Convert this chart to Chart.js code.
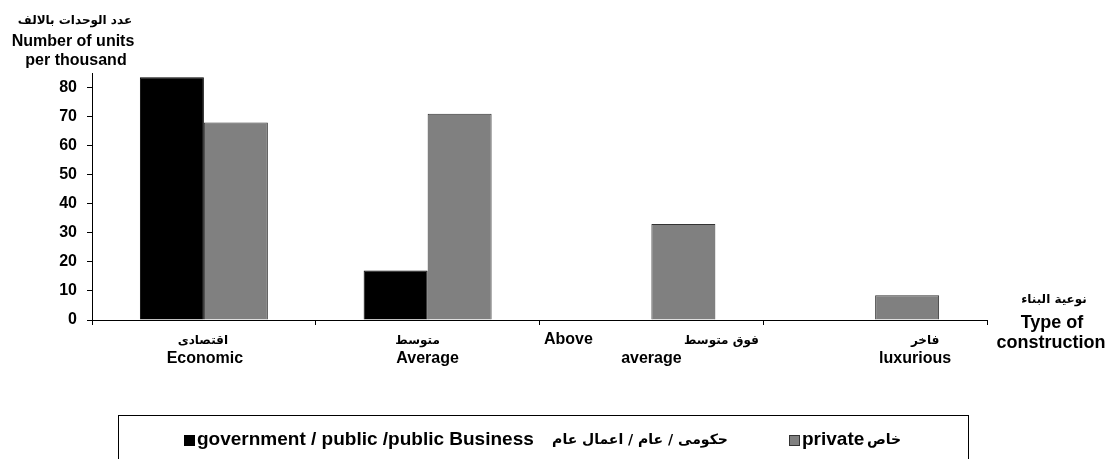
<!DOCTYPE html>
<html>
<head>
<meta charset="utf-8">
<script src="https://cdn.jsdelivr.net/npm/chart.js@4"></script>
<style>
  html, body { margin: 0; padding: 0; background: #fff; }
  #wrap { width: 1117px; height: 459px; }
</style>
</head>
<body>
<div id="wrap"><canvas id="unitsChart" width="1117" height="459"></canvas></div>
<script>
// 数据
const categoriesAr = ['اقتصادى', 'متوسط', 'فوق متوسط', 'فاخر'];
const categoriesEn = ['Economic', 'Average', 'Above average', 'luxurious'];
const governmentValues = [83.5, 17, 0, 0];
const privateValues = [68, 71, 33, 8.5];
const seriesEn = ['government / public /public Business', 'private'];
const seriesAr = ['حكومى / عام / اعمال عام', 'خاص'];
const yTicks = [0, 10, 20, 30, 40, 50, 60, 70, 80];

const EN = 'bold 16px "Liberation Sans", Arial, sans-serif';
const AR = 'bold 12px "DejaVu Sans", sans-serif';

// 分类标签的偏移 (相对于分类中心)
const labelOffsets = [
    { ar: -1, en: 1 },
    { ar: -10, en: 0 },
    { ar: 70, en: 0, first: -83 },
    { ar: 50, en: 40 }
];

function text(ctx, str, x, y, font, align) {
    ctx.font = font;
    ctx.textAlign = align || 'center';
    ctx.textBaseline = 'middle';
    ctx.fillText(str, x, y);
}

const labelsPlugin = {
    id: 'labelsPlugin',
    afterDraw(chart) {
        const ctx = chart.ctx;
        const x = chart.scales.x;
        ctx.save();
        ctx.fillStyle = '#000';

        // 分类标签
        categoriesEn.forEach((en, i) => {
            const c = x.getPixelForValue(i);
            const off = labelOffsets[i];
            text(ctx, categoriesAr[i], c + off.ar, 341, AR);
            if (off.first !== undefined) {
                const parts = en.split(' ');
                text(ctx, parts[0], c + off.first, 340, EN);
                text(ctx, parts[1], c + off.en, 359, EN);
            } else {
                text(ctx, en, c + off.en, 359, EN);
            }
        });

        // 轴标题
        text(ctx, 'عدد الوحدات بالالف', 75, 21, AR);
        text(ctx, 'Number of units', 73, 42, EN);
        text(ctx, 'per thousand', 76, 61, EN);

        text(ctx, 'نوعية البناء', 1054, 300, 'bold 12px "DejaVu Sans", sans-serif');
        text(ctx, 'Type of', 1052, 323, 'bold 18px "Liberation Sans", Arial, sans-serif');
        text(ctx, 'construction', 1051, 343, 'bold 18px "Liberation Sans", Arial, sans-serif');

        // 图例
        ctx.strokeStyle = '#000';
        ctx.lineWidth = 1;
        ctx.strokeRect(118.5, 415.5, 850, 100);
        const LF = 'bold 19px "Liberation Sans", Arial, sans-serif';
        const LA = 'bold 14px "DejaVu Sans", sans-serif';
        const ds = chart.data.datasets;

        ctx.fillStyle = ds[0].backgroundColor;
        ctx.fillRect(184, 435, 11, 11);
        ctx.fillStyle = '#000';
        text(ctx, seriesEn[0], 197, 440, LF, 'left');
        text(ctx, seriesAr[0], 640, 440, LA);

        ctx.fillStyle = ds[1].backgroundColor;
        ctx.fillRect(789, 435, 10, 10);
        ctx.strokeStyle = '#333';
        ctx.strokeRect(789.5, 435.5, 10, 10);
        ctx.fillStyle = '#000';
        text(ctx, seriesEn[1], 802, 440, LF, 'left');
        text(ctx, seriesAr[1], 884, 440, LA);

        ctx.restore();
    }
};

function initChart() {
    const ctx = document.getElementById('unitsChart').getContext('2d');
    new Chart(ctx, {
        type: 'bar',
        data: {
            labels: categoriesEn,
            datasets: [{
                label: seriesEn[0],
                data: governmentValues,
                backgroundColor: '#000000',
                borderColor: '#000000',
                borderWidth: 1
            }, {
                label: seriesEn[1],
                data: privateValues,
                backgroundColor: '#808080',
                borderColor: '#333333',
                borderWidth: 1
            }]
        },
        options: {
            responsive: false,
            animation: false,
            devicePixelRatio: 1,
            layout: { padding: { left: 0, top: 73, right: 130, bottom: 0 } },
            datasets: {
                bar: { categoryPercentage: 0.572, barPercentage: 1.0 }
            },
            plugins: {
                legend: { display: false },
                tooltip: { enabled: false }
            },
            scales: {
                x: {
                    offset: true,
                    grid: {
                        offset: true,
                        drawOnChartArea: false,
                        drawTicks: true,
                        tickLength: 5,
                        color: '#000'
                    },
                    border: { display: true, color: '#000', width: 1 },
                    ticks: { display: false },
                    afterFit(scale) { scale.height = 139; }
                },
                y: {
                    min: 0,
                    max: 85,
                    grid: {
                        drawOnChartArea: false,
                        drawTicks: true,
                        tickLength: 5,
                        color: '#000'
                    },
                    border: { display: true, color: '#000', width: 1 },
                    ticks: {
                        stepSize: 10,
                        padding: 10,
                        color: '#000',
                        font: { family: '"Liberation Sans", Arial, sans-serif', size: 16, weight: 'bold' }
                    },
                    afterBuildTicks(scale) {
                        scale.ticks = yTicks.map(v => ({ value: v }));
                    },
                    afterFit(scale) { scale.width = 92; }
                }
            }
        },
        plugins: [labelsPlugin]
    });
}

document.addEventListener('DOMContentLoaded', initChart);
</script>
</body>
</html>
